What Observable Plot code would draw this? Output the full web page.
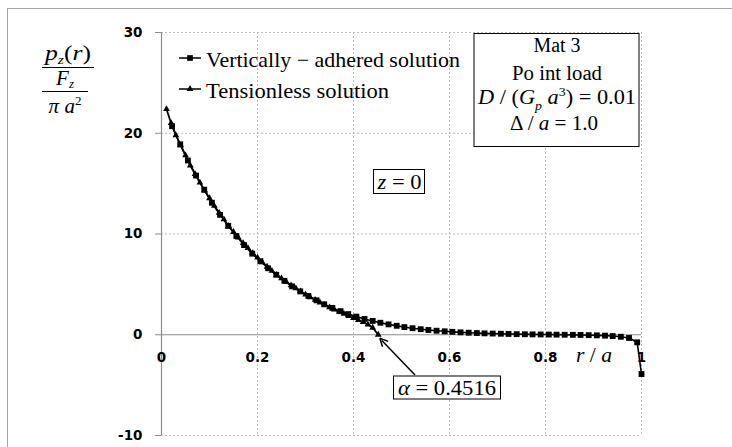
<!DOCTYPE html>
<html><head><meta charset="utf-8">
<script src="https://cdn.jsdelivr.net/npm/d3@7"></script>
<script src="https://cdn.jsdelivr.net/npm/@observablehq/plot@0.6"></script>
<style>
html,body{margin:0;padding:0;background:#fff;}
#chart{position:relative;width:732px;height:447px;overflow:hidden;}
#frame{position:absolute;left:7px;top:8px;width:800px;height:800px;border:1px solid #a6a6a6;box-sizing:border-box;}
#chart svg{position:absolute;left:0;top:0;}
</style></head><body>
<div id="chart"><div id="frame"></div></div>
<script>
// Vertically-adhered solution (squares)
const adheredR = [0.022,0.039,0.055,0.072,0.089,0.105,0.122,0.139,0.156,0.172,0.189,0.206,0.222,0.239,0.256,0.272,0.289,0.306,0.323,0.339,0.356,0.373,0.389,0.406,0.423,0.440,0.456,0.473,0.490,0.506,0.523,0.540,0.556,0.573,0.590,0.606,0.623,0.640,0.657,0.673,0.690,0.707,0.723,0.740,0.757,0.773,0.790,0.807,0.823,0.840,0.857,0.873,0.890,0.907,0.924,0.940,0.957,0.974,0.991,1.000];
const adheredP = [20.7,18.9,17.3,15.8,14.4,13.1,11.9,10.8,9.8,8.9,8.05,7.3,6.6,5.95,5.35,4.8,4.3,3.85,3.42,3.02,2.66,2.34,2.05,1.8,1.57,1.37,1.19,1.03,0.89,0.76,0.65,0.55,0.47,0.40,0.34,0.29,0.24,0.20,0.17,0.14,0.12,0.10,0.08,0.06,0.05,0.04,0.03,0.02,0.01,0.0,-0.01,-0.02,-0.04,-0.06,-0.09,-0.13,-0.20,-0.32,-0.75,-3.9];
// Tensionless solution (triangles)
const tensionlessR = [0.0104,0.020,0.030,0.040,0.050,0.060,0.070,0.080,0.090,0.100,0.110,0.120,0.130,0.140,0.150,0.160,0.170,0.180,0.190,0.200,0.210,0.220,0.230,0.240,0.250,0.260,0.270,0.280,0.290,0.300,0.310,0.320,0.330,0.340,0.350,0.360,0.370,0.380,0.390,0.400,0.410,0.420,0.430,0.440,0.4516];
const tensionlessP = [22.4,21.0,19.8,18.8,17.8,16.8,15.95,15.1,14.3,13.55,12.8,12.1,11.45,10.8,10.2,9.65,9.1,8.6,8.1,7.65,7.2,6.75,6.35,5.95,5.6,5.25,4.9,4.6,4.3,4.0,3.72,3.46,3.2,2.96,2.72,2.5,2.28,2.07,1.86,1.66,1.46,1.25,1.02,0.7,0.0];
const xTicks = [0, 0.2, 0.4, 0.6, 0.8, 1];
const yTicks = [-10, 0, 10, 20, 30];
const seriesNames = ["Vertically \u2212 adhered solution", "Tensionless solution"];
const alphaValue = 0.4516;

const adhered = adheredR.map((r, i) => ({r, p: adheredP[i]}));
const tensionless = tensionlessR.map((r, i) => ({r, p: tensionlessP[i]}));
const serif = "'Liberation Serif','Times New Roman',serif";
const sans = "'DejaVu Sans',Verdana,sans-serif";

const plot = Plot.plot({
  width: 732, height: 447,
  marginLeft: 161, marginRight: 91, marginTop: 32, marginBottom: 12,
  style: {background: "transparent", overflow: "visible", fontFamily: sans},
  x: {domain: [0, 1], axis: null},
  y: {domain: [-10, 30]},
  marks: [
    Plot.ruleX(xTicks.filter(d => d > 0), {stroke: "#b8b8b8", strokeDasharray: "2,2"}),
    Plot.ruleY(yTicks.filter(d => d !== 0), {stroke: "#b8b8b8", strokeDasharray: "2,2"}),
    Plot.ruleY([0], {stroke: "#8c8c8c", strokeWidth: 1.2}),
    Plot.ruleX([0], {stroke: "#8c8c8c", strokeWidth: 1.2}),
    Plot.axisY({ticks: yTicks, tickFormat: d => String(d), tickSize: 6, tickPadding: 13, stroke: "#8c8c8c", fill: "black", fontSize: 13.5, fontWeight: "bold", label: null}),
    Plot.text(xTicks, {x: d => d, y: 0, dy: 22.5, text: d => String(d), fontSize: 13.5, fontWeight: "bold", fill: "black"}),
    Plot.line(adhered, {x: "r", y: "p", stroke: "black", strokeWidth: 1.6}),
    Plot.line(tensionless, {x: "r", y: "p", stroke: "black", strokeWidth: 1.8}),
    Plot.dot(adhered, {x: "r", y: "p", symbol: "square", r: 3.3, fill: "black", stroke: "none"}),
    Plot.dot(tensionless, {x: "r", y: "p", symbol: "triangle", r: 2.5, fill: "black", stroke: "none"})
  ]
});
document.getElementById("chart").appendChild(plot);

const svg = d3.select(plot);
const X = v => plot.scale("x").apply(v);
const Y = v => plot.scale("y").apply(v);
const g = svg.append("g");

function mathText(x, y, parts, {size = 20, anchor = "middle", length = null, subShift = 0.3} = {}) {
  const t = g.append("text").attr("x", x).attr("y", y).attr("text-anchor", anchor)
    .attr("font-family", serif).attr("font-size", size).attr("fill", "black");
  let shift = 0;
  for (const p of parts) {
    const o = typeof p === "string" ? {t: p} : p;
    const ts = t.append("tspan").text(o.t);
    if (o.i) ts.attr("font-style", "italic");
    const target = o.sub ? size * subShift : o.sup ? -size * 0.4 : 0;
    if (target !== shift) { ts.attr("dy", target - shift); shift = target; }
    if (o.sub || o.sup) ts.attr("font-size", size * 0.62);
  }
  if (length) t.attr("textLength", length).attr("lengthAdjust", "spacingAndGlyphs");
  return t;
}

// y-axis label (fraction)
mathText(68, 60, [{t: "p", i: true}, {t: "z", i: true, sub: true}, "(", {t: "r", i: true}, ")"], {size: 21, length: 46, subShift: 0.18});
g.append("line").attr("x1", 42).attr("x2", 94).attr("y1", 67.5).attr("y2", 67.5).attr("stroke", "black").attr("stroke-width", 1);
mathText(65, 85, [{t: "F", i: true}, {t: "z", i: true, sub: true}], {size: 21, subShift: 0.15});
g.append("line").attr("x1", 42).attr("x2", 88).attr("y1", 91.5).attr("y2", 91.5).attr("stroke", "black").attr("stroke-width", 1);
mathText(65, 113, [{t: "\u03c0 ", i: true}, {t: "a", i: true}, {t: "2", sup: true}], {size: 21});

// legend
const legY = [58, 89];
const syms = [d3.symbolSquare, d3.symbolTriangle];
const symSize = [Math.PI * 3.2 * 3.2, Math.PI * 2.5 * 2.5];
seriesNames.forEach((name, i) => {
  g.append("line").attr("x1", 179).attr("x2", 201).attr("y1", legY[i]).attr("y2", legY[i]).attr("stroke", "black").attr("stroke-width", 1.5);
  g.append("path").attr("d", d3.symbol(syms[i], symSize[i])()).attr("transform", `translate(190,${legY[i]})`).attr("fill", "black");
  mathText(206, legY[i] + 8.5, [name], {size: 21, anchor: "start", length: i === 0 ? 254 : 183});
});

// info box
g.append("rect").attr("x", 474).attr("y", 33.5).attr("width", 165).attr("height", 113).attr("fill", "white").attr("stroke", "black").attr("stroke-width", 1);
mathText(557, 51.5, ["Mat 3"], {size: 20, length: 47});
mathText(557, 80, ["Po int load"], {size: 20, length: 90});
mathText(557, 103.5, [{t: "D", i: true}, " / (", {t: "G", i: true}, {t: "p", i: true, sub: true}, " ", {t: "a", i: true}, {t: "3", sup: true}, ") = 0.01"], {size: 20, length: 158});
mathText(554, 130, ["\u0394 / ", {t: "a", i: true}, " = 1.0"], {size: 20, length: 88});

// z = 0 box
g.append("rect").attr("x", 373.5).attr("y", 169.5).attr("width", 51).attr("height", 24).attr("fill", "white").attr("stroke", "black").attr("stroke-width", 1);
mathText(399.5, 189, [{t: "z", i: true}, " = 0"], {size: 20, length: 44});

// alpha annotation
const tipX = X(alphaValue) + 2, tipY = Y(0) + 4;
const tailX = 415, tailY = 375;
const ang = Math.atan2(tipY - tailY, tipX - tailX);
g.append("line").attr("x1", tailX).attr("y1", tailY).attr("x2", tipX - 3 * Math.cos(ang)).attr("y2", tipY - 3 * Math.sin(ang)).attr("stroke", "black").attr("stroke-width", 1.5);
const ah = 9, aw = 0.45;
g.append("path").attr("d", `M${tipX},${tipY}L${tipX - ah * Math.cos(ang - aw)},${tipY - ah * Math.sin(ang - aw)}M${tipX},${tipY}L${tipX - ah * Math.cos(ang + aw)},${tipY - ah * Math.sin(ang + aw)}`).attr("stroke", "black").attr("stroke-width", 1.5).attr("fill", "none");
g.append("rect").attr("x", 393.5).attr("y", 376).attr("width", 107).attr("height", 23).attr("fill", "white").attr("stroke", "black").attr("stroke-width", 1);
mathText(447, 395, [{t: "\u03b1", i: true}, " = ", String(alphaValue)], {size: 20, length: 98});

// r / a axis label
mathText(576, 362, [{t: "r", i: true}, " / ", {t: "a", i: true}], {size: 20, anchor: "start", length: 36});
</script>
</body></html>
